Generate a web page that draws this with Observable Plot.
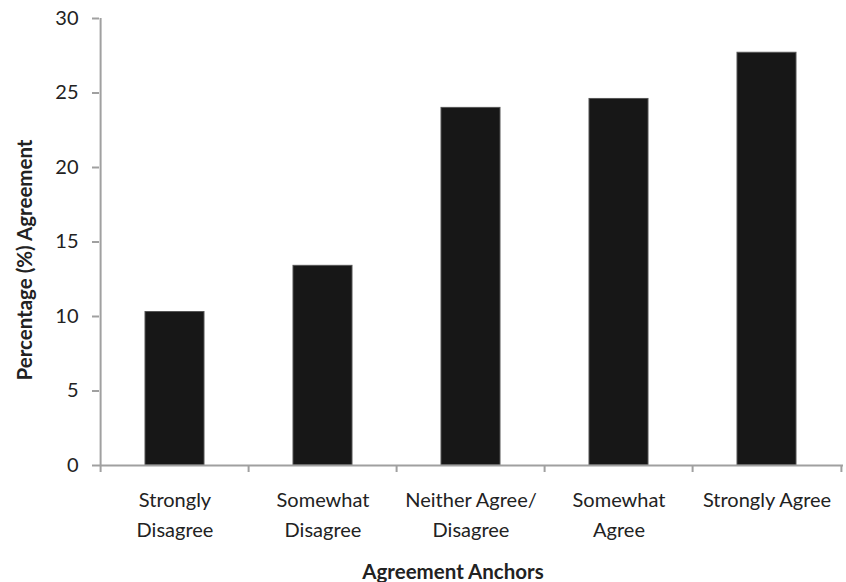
<!DOCTYPE html>
<html><head><meta charset="utf-8">
<script src="https://cdn.jsdelivr.net/npm/d3@7"></script>
<script src="https://cdn.jsdelivr.net/npm/@observablehq/plot@0.6"></script>
<style>body{margin:0;background:#fff;} svg{display:block;}</style>
</head><body><div id="chart"></div>
<script>
const categories = ["Strongly\nDisagree", "Somewhat\nDisagree", "Neither Agree/\nDisagree", "Somewhat\nAgree", "Strongly Agree"];
const values = [10.3, 13.4, 24.0, 24.6, 27.7];
const yTicks = [0, 5, 10, 15, 20, 25, 30];
const xTitle = "Agreement Anchors";
const yTitle = "Percentage (%) Agreement";

const data = categories.map((c, i) => ({category: c, value: values[i]}));
const W = 846, H = 582, mL = 99, mR = 3, mT = 18, mB = 117;
const step = (W - mL - mR) / categories.length;
const axisColor = "#a0a0a0";

const chart = Plot.plot({
  width: W, height: H,
  marginLeft: mL, marginRight: mR, marginTop: mT, marginBottom: mB,
  style: {fontFamily: "Lato, sans-serif", fontSize: "20px", color: "#222", background: "#fff", overflow: "visible"},
  x: {domain: categories, paddingInner: 0.6, paddingOuter: 0.3, label: null},
  y: {domain: [0, 30], label: null},
  marks: [
    Plot.barY(data, {x: "category", y: "value", fill: "#171717", stroke: "#555", strokeWidth: 1}),
    // y axis line
    Plot.ruleX([categories[0]], {x: d => d, dx: -step / 2, y1: 0, y2: 30, stroke: axisColor, strokeWidth: 2}),
    // x axis line
    Plot.ruleY([0], {stroke: axisColor, strokeWidth: 2}),
    // category boundary ticks
    Plot.ruleX(categories, {x: d => d, dx: -step / 2, y1: 0, y2: 0, insetBottom: -7, stroke: axisColor, strokeWidth: 2}),
    Plot.ruleX([categories[categories.length - 1]], {x: d => d, dx: step / 2, y1: 0, y2: 0, insetBottom: -7, stroke: axisColor, strokeWidth: 2}),
    Plot.axisY({ticks: yTicks, tickSize: 7, tickPadding: 14, stroke: axisColor, strokeWidth: 2, fill: "#222", label: null}),
    Plot.axisX({tickSize: 0, tickPadding: 20, lineHeight: 1.5, fill: "#222", label: null}),
    Plot.text([xTitle], {frameAnchor: "bottom", lineAnchor: "middle", dx: -18.5, dy: 106.5, fontWeight: "bold", fontSize: 20.5, fill: "#222"}),
    Plot.text([yTitle], {frameAnchor: "left", textAnchor: "middle", dx: -74.5, dy: 18, rotate: -90, fontWeight: "bold", fontSize: 20.5, fill: "#222"})
  ]
});
document.getElementById("chart").appendChild(chart);
</script>
</body></html>
